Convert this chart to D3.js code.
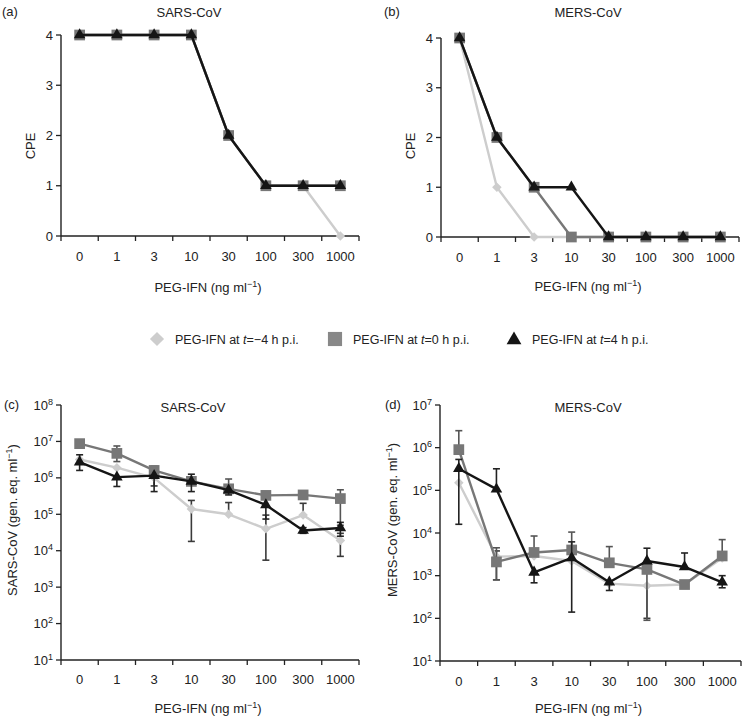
<!DOCTYPE html>
<html>
<head>
<meta charset="utf-8">
<script src="https://cdn.jsdelivr.net/npm/d3@7"></script>
<style>
  body { margin: 0; background: #fff; }
  svg { display: block; font-family: "Liberation Sans", Arial, Helvetica, sans-serif; }
</style>
</head>
<body>
<svg id="chart" width="742" height="717"></svg>
<script>
// ---------- DATA ----------
const doses = ["0", "1", "3", "10", "30", "100", "300", "1000"];
const seriesNames = ["PEG-IFN at t=−4 h p.i.", "PEG-IFN at t=0 h p.i.", "PEG-IFN at t=4 h p.i."];
const cpeTicks = [0, 1, 2, 3, 4];

// (a) SARS-CoV CPE
const cpeSarsM4 = [4, 4, 4, 4, 2, 1, 1, 0];
const cpeSars0  = [4, 4, 4, 4, 2, 1, 1, 1];
const cpeSars4  = [4, 4, 4, 4, 2, 1, 1, 1];
// (b) MERS-CoV CPE
const cpeMersM4 = [4, 1, 0, 0, 0, 0, 0, 0];
const cpeMers0  = [4, 2, 1, 0, 0, 0, 0, 0];
const cpeMers4  = [4, 2, 1, 1, 0, 0, 0, 0];

// (c) SARS-CoV genome equivalents per ml
const sarsM4 = [3.2e6, 1.9e6, 1.0e6, 1.4e5, 1.0e5, 4.0e4, 9.5e4, 1.9e4];
const sars0  = [8.7e6, 4.7e6, 1.6e6, 8.0e5, 5.0e5, 3.3e5, 3.4e5, 2.7e5];
const sars4  = [2.7e6, 1.05e6, 1.15e6, 8.0e5, 4.6e5, 1.8e5, 3.6e4, 4.2e4];
const sarsLoM4 = [null, null, 6.0e5, 1.8e4, null, 5.5e3, null, 7.0e3];
const sarsHiM4 = [null, null, null, 2.4e5, 2.1e5, 9.5e4, 2.0e5, 3.0e4];
const sarsLo0  = [null, 2.8e6, 1.2e6, null, null, null, null, 5.0e4];
const sarsHi0  = [null, 7.5e6, 2.1e6, null, 9.3e5, null, null, 4.7e5];
const sarsLo4  = [1.6e6, 5.8e5, 4.2e5, 4.2e5, 3.4e5, 7.4e4, 3.0e4, 2.5e4];
const sarsHi4  = [4.3e6, null, null, 1.26e6, null, null, 4.3e4, 6.0e4];
const sarsTicks = [1e1, 1e2, 1e3, 1e4, 1e5, 1e6, 1e7, 1e8];

// (d) MERS-CoV genome equivalents per ml
const mersM4 = [1.5e5, 2.8e3, 2.9e3, 2.2e3, 6.5e2, 5.8e2, 6.2e2, 2.6e3];
const mers0  = [9.0e5, 2.1e3, 3.5e3, 4.0e3, 2.0e3, 1.4e3, 6.2e2, 2.9e3];
const mers4  = [3.2e5, 1.07e5, 1.2e3, 2.6e3, 7.0e2, 2.2e3, 1.6e3, 7.0e2];
const mersLoM4 = [null, 8.0e2, null, null, null, 1.0e2, null, null];
const mersHiM4 = [null, 3.8e3, null, null, null, null, null, null];
const mersLo0  = [null, 8.0e2, null, null, null, 9.0e1, null, null];
const mersHi0  = [2.5e6, 4.5e3, 8.5e3, 1.05e4, 4.8e3, null, null, 7.0e3];
const mersLo4  = [1.6e4, null, 6.8e2, 1.4e2, 4.5e2, null, null, 5.2e2];
const mersHi4  = [5.3e5, 3.2e5, null, 6.2e3, null, 4.4e3, 3.4e3, 1.0e3];
const mersTicks = [1e1, 1e2, 1e3, 1e4, 1e5, 1e6, 1e7];

// ---------- STYLE ----------
const colLight = "#cdcdcd", colMid = "#777777", colDark = "#151515", axisCol = "#222";
const styles = [
  { color: colLight, symbol: "diamond", err: "#3a3a3a" },
  { color: colMid,   symbol: "square",  err: "#555555" },
  { color: colDark,  symbol: "triangle", err: "#222222" }
];
const FS = 13;

const svg = d3.select("#chart");

function symbolPath(kind, size) {
  if (kind === "triangle") return d3.symbol().type(d3.symbolTriangle).size(size)();
  return d3.symbol().type(d3.symbolSquare).size(size)();
}

function drawPanel(cfg) {
  const g = svg.append("g");
  const x = d3.scaleBand().domain(doses).range(cfg.xr).padding(0);
  const y = cfg.log
    ? d3.scaleLog().domain(cfg.ydom).range(cfg.yr)
    : d3.scaleLinear().domain(cfg.ydom).range(cfg.yr);
  const cx = d => x(d) + x.bandwidth() / 2;

  // axes
  const xAxisY = cfg.yr[0];
  g.append("line").attr("x1", cfg.xr[0]).attr("x2", cfg.xr[1])
    .attr("y1", xAxisY).attr("y2", xAxisY)
    .attr("stroke", axisCol).attr("stroke-width", 1.4);
  g.append("line").attr("x1", cfg.xr[0]).attr("x2", cfg.xr[0])
    .attr("y1", cfg.yr[0]).attr("y2", cfg.yr[1])
    .attr("stroke", axisCol).attr("stroke-width", 1.4);

  // x ticks at band boundaries
  const bounds = doses.map(d => x(d)).concat([cfg.xr[1]]);
  g.selectAll(".xt").data(bounds).enter().append("line")
    .attr("x1", d => d).attr("x2", d => d)
    .attr("y1", xAxisY).attr("y2", xAxisY + 5)
    .attr("stroke", axisCol).attr("stroke-width", 1.3);
  g.selectAll(".xl").data(doses).enter().append("text")
    .attr("x", d => cx(d)).attr("y", cfg.xLabelY)
    .attr("text-anchor", "middle").attr("font-size", FS).attr("fill", "#222")
    .text(d => d);

  // y ticks
  g.selectAll(".yt").data(cfg.yticks).enter().append("line")
    .attr("x1", cfg.xr[0] - 5).attr("x2", cfg.xr[0])
    .attr("y1", d => y(d)).attr("y2", d => y(d))
    .attr("stroke", axisCol).attr("stroke-width", 1.3);
  const yl = g.selectAll(".yl").data(cfg.yticks).enter().append("text")
    .attr("x", cfg.xr[0] - 8).attr("y", d => y(d) + 4.5)
    .attr("text-anchor", "end").attr("font-size", FS).attr("fill", "#222");
  if (cfg.log) {
    yl.each(function(d) {
      const t = d3.select(this);
      t.append("tspan").text("10");
      t.append("tspan").attr("dy", -5).attr("font-size", 9).text(Math.round(Math.log10(d)));
    });
  } else {
    yl.text(d => d);
  }

  // titles
  g.append("text").attr("x", cfg.titleX).attr("y", cfg.titleY)
    .attr("text-anchor", "middle").attr("font-size", FS).attr("fill", "#222").text(cfg.title);
  g.append("text").attr("x", cfg.tagX).attr("y", cfg.tagY)
    .attr("font-size", FS).attr("fill", "#222").text(cfg.tag);
  const xt = g.append("text").attr("x", (cfg.xr[0] + cfg.xr[1]) / 2 - 2).attr("y", cfg.xTitleY)
    .attr("text-anchor", "middle").attr("font-size", FS).attr("fill", "#222");
  xt.append("tspan").text("PEG-IFN (ng ml");
  xt.append("tspan").attr("dy", -5).attr("font-size", 9).text("−1");
  xt.append("tspan").attr("dy", 5).text(")");

  const yt = g.append("text")
    .attr("transform", `translate(${cfg.yTitleX},${cfg.yTitleY}) rotate(-90)`)
    .attr("text-anchor", "middle").attr("font-size", FS).attr("fill", "#222");
  if (cfg.log) {
    yt.append("tspan").text(cfg.yTitle + " (gen. eq. ml");
    yt.append("tspan").attr("dy", -5).attr("font-size", 9).text("−1");
    yt.append("tspan").attr("dy", 5).text(")");
  } else {
    yt.text(cfg.yTitle);
  }

  // series
  cfg.series.forEach((vals, si) => {
    const st = styles[si];
    const pts = vals.map((v, i) => ({ d: doses[i], v, lo: cfg.lo ? cfg.lo[si][i] : null, hi: cfg.hi ? cfg.hi[si][i] : null }));

    // error bars
    if (cfg.lo) {
      const eg = g.append("g");
      pts.forEach(p => {
        if (p.lo == null && p.hi == null) return;
        const top = p.hi != null ? p.hi : p.v;
        const bot = p.lo != null ? p.lo : p.v;
        eg.append("line").attr("x1", cx(p.d)).attr("x2", cx(p.d))
          .attr("y1", y(top)).attr("y2", y(bot))
          .attr("stroke", st.err).attr("stroke-width", 1.6);
        [p.hi, p.lo].forEach(e => {
          if (e == null) return;
          eg.append("line").attr("x1", cx(p.d) - 3.5).attr("x2", cx(p.d) + 3.5)
            .attr("y1", y(e)).attr("y2", y(e))
            .attr("stroke", st.err).attr("stroke-width", 1.6);
        });
      });
    }

    const line = d3.line().x(p => cx(p.d)).y(p => y(p.v));
    g.append("path").datum(pts).attr("d", line)
      .attr("fill", "none").attr("stroke", st.color).attr("stroke-width", 2.4)
      .attr("stroke-linejoin", "round");

    const size = st.symbol === "square" ? 115 : (st.symbol === "triangle" ? 58 : 45);
    g.selectAll(null).data(pts).enter().append("path")
      .attr("d", symbolPath(st.symbol, size))
      .attr("transform", p => `translate(${cx(p.d)},${y(p.v)})` + (st.symbol === "diamond" ? " rotate(45)" : ""))
      .attr("fill", st.color);
  });
}

drawPanel({
  tag: "(a)", tagX: 2, tagY: 16, title: "SARS-CoV", titleX: 189, titleY: 17,
  xr: [61, 359], yr: [236, 35], ydom: [0, 4], yticks: cpeTicks, log: false,
  xLabelY: 261, xTitleY: 292, yTitle: "CPE", yTitleX: 35, yTitleY: 146,
  series: [cpeSarsM4, cpeSars0, cpeSars4]
});
drawPanel({
  tag: "(b)", tagX: 384, tagY: 16, title: "MERS-CoV", titleX: 588, titleY: 17,
  xr: [441, 739], yr: [237, 38], ydom: [0, 4], yticks: cpeTicks, log: false,
  xLabelY: 262, xTitleY: 291, yTitle: "CPE", yTitleX: 415, yTitleY: 146,
  series: [cpeMersM4, cpeMers0, cpeMers4]
});
drawPanel({
  tag: "(c)", tagX: 4, tagY: 409, title: "SARS-CoV", titleX: 193, titleY: 412,
  xr: [61, 359], yr: [660, 405], ydom: [1e1, 1e8], yticks: sarsTicks, log: true,
  xLabelY: 684, xTitleY: 713, yTitle: "SARS-CoV", yTitleX: 17, yTitleY: 520,
  series: [sarsM4, sars0, sars4],
  lo: [sarsLoM4, sarsLo0, sarsLo4], hi: [sarsHiM4, sarsHi0, sarsHi4]
});
drawPanel({
  tag: "(d)", tagX: 385, tagY: 409, title: "MERS-CoV", titleX: 588, titleY: 412,
  xr: [440, 741], yr: [661, 405], ydom: [1e1, 1e7], yticks: mersTicks, log: true,
  xLabelY: 686, xTitleY: 713, yTitle: "MERS-CoV", yTitleX: 397, yTitleY: 520,
  series: [mersM4, mers0, mers4],
  lo: [mersLoM4, mersLo0, mersLo4], hi: [mersHiM4, mersHi0, mersHi4]
});

// ---------- LEGEND ----------
const legendX = [157, 335, 514];
const legendTextX = [175, 353, 532];
const legendY = 339;
const lg = svg.append("g");
seriesNames.forEach((name, i) => {
  const st = styles[i];
  const size = st.symbol === "square" ? 200 : (st.symbol === "triangle" ? 95 : 100);
  lg.append("path")
    .attr("d", symbolPath(st.symbol, size))
    .attr("transform", `translate(${legendX[i]},${legendY + (st.symbol === "triangle" ? 1 : 0)})` + (st.symbol === "diamond" ? " rotate(45)" : ""))
    .attr("fill", st.symbol === "square" ? "#888" : st.color);
  const parts = name.split("t=");
  const t = lg.append("text").attr("x", legendTextX[i]).attr("y", legendY + 4.5)
    .attr("font-size", 12.5).attr("fill", "#222");
  t.append("tspan").text(parts[0]);
  t.append("tspan").attr("font-style", "italic").text("t");
  t.append("tspan").text("=" + parts[1]);
});
</script>
</body>
</html>
